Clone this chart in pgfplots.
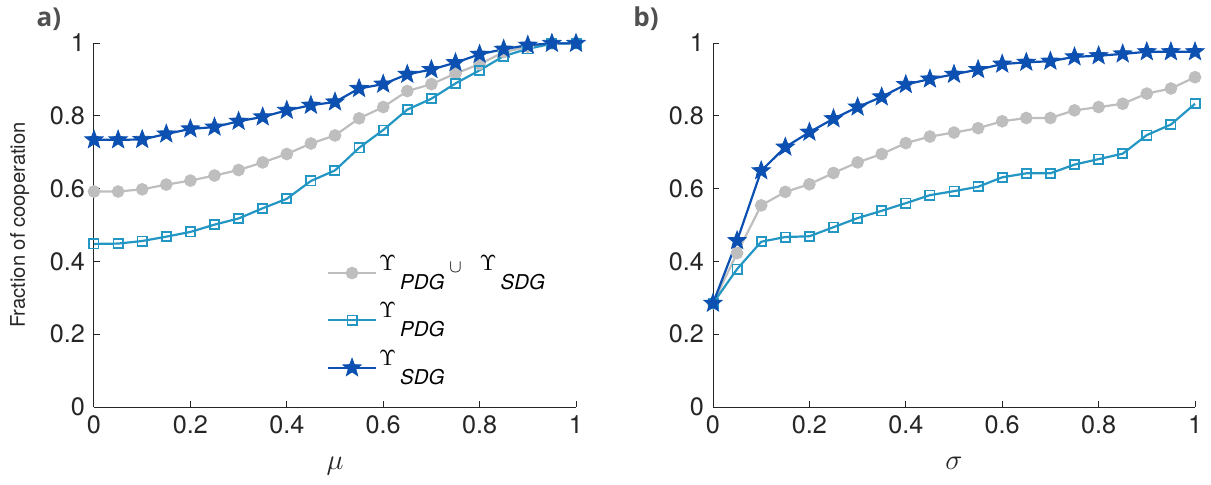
\documentclass[border=0pt]{standalone}
\usepackage{pgfplots}
\pgfplotsset{compat=1.18}
\usepackage{fontspec}
\setmainfont{TeX Gyre Heros}
\newfontfamily\panelfont{Open Sans}
\usetikzlibrary{plotmarks}
\definecolor{cgray}{RGB}{190,190,190}
\definecolor{cteal}{RGB}{35,150,195}
\definecolor{cblue}{RGB}{12,80,178}
\definecolor{axc}{RGB}{38,38,38}

\pgfplotstableread{
x g s t
0.00 0.592 0.448 0.734
0.05 0.592 0.449 0.734
0.10 0.598 0.456 0.735
0.15 0.611 0.468 0.750
0.20 0.622 0.481 0.764
0.25 0.636 0.501 0.769
0.30 0.651 0.518 0.785
0.35 0.672 0.546 0.797
0.40 0.695 0.572 0.815
0.45 0.724 0.621 0.829
0.50 0.746 0.650 0.838
0.55 0.793 0.712 0.875
0.60 0.824 0.761 0.887
0.65 0.868 0.817 0.914
0.70 0.887 0.847 0.927
0.75 0.916 0.889 0.946
0.80 0.942 0.925 0.969
0.85 0.975 0.964 0.983
0.90 0.990 0.984 0.994
0.95 0.999 0.998 0.999
1.00 1.000 0.999 0.999
}\tabmu

\pgfplotstableread{
x g s t
0.00 0.285 0.285 0.285
0.05 0.423 0.379 0.457
0.10 0.554 0.454 0.649
0.15 0.591 0.467 0.714
0.20 0.612 0.469 0.755
0.25 0.643 0.494 0.792
0.30 0.672 0.519 0.824
0.35 0.695 0.539 0.852
0.40 0.725 0.560 0.886
0.45 0.743 0.582 0.901
0.50 0.754 0.593 0.914
0.55 0.766 0.605 0.927
0.60 0.785 0.631 0.942
0.65 0.794 0.642 0.947
0.70 0.794 0.642 0.950
0.75 0.815 0.666 0.962
0.80 0.824 0.681 0.965
0.85 0.833 0.696 0.970
0.90 0.861 0.747 0.976
0.95 0.875 0.776 0.976
1.00 0.906 0.833 0.976
}\tabsig

\pgfplotsset{
  geom/.style={scale only axis, width=241pt, height=182pt,
    xmin=0, xmax=1, ymin=0, ymax=1, anchor=south west},
  myaxis/.style={
    geom,
    axis lines*=left,
    axis line style={axc, line width=0.5pt},
    tick style={axc, line width=0.5pt},
    tick align=inside,
    major tick length=3pt,
    xtick={0,0.2,...,1}, ytick={0,0.2,...,1},
    /pgf/number format/assume math mode=true,
    ticklabel style={font=\fontsize{12.6}{14}\selectfont, text=axc},
    xticklabel style={yshift=-1pt},
    yticklabel style={xshift=-1pt},
    label style={text=axc},
    xlabel style={font=\fontsize{14}{15}\selectfont, yshift=-4.5pt},
    clip=false,
  },
  leg/.style={legend style={at={(0.47,#1)}, anchor=west, draw=none, fill=none,
    font=\fontsize{9.5}{11}\selectfont, nodes={inner sep=1pt}},
    legend cell align=left,
    legend image code/.code={\draw[mark repeat=2, mark phase=2] plot coordinates {(0pt,0pt)(12pt,0pt)(24pt,0pt)};}},
  gline/.style={cgray, line width=1.1pt, mark=*, mark size=2.6pt, mark options={solid, fill=cgray, draw=cgray}},
  sline/.style={cteal, line width=1.1pt, mark=square, mark size=2.3pt, mark options={solid, draw=cteal, line width=0.9pt}},
  tline/.style={cblue, line width=1.1pt, mark=star*, mark size=4.8pt, mark options={solid, fill=cblue, draw=cblue, line width=0.4pt}},
}
\pgfdeclareplotmark{star*}{%
  \pgfpathmoveto{\pgfqpointpolar{90}{\pgfplotmarksize}}%
  \pgfpathlineto{\pgfqpointpolar{126}{0.42\pgfplotmarksize}}%
  \pgfpathlineto{\pgfqpointpolar{162}{\pgfplotmarksize}}%
  \pgfpathlineto{\pgfqpointpolar{198}{0.42\pgfplotmarksize}}%
  \pgfpathlineto{\pgfqpointpolar{234}{\pgfplotmarksize}}%
  \pgfpathlineto{\pgfqpointpolar{270}{0.42\pgfplotmarksize}}%
  \pgfpathlineto{\pgfqpointpolar{306}{\pgfplotmarksize}}%
  \pgfpathlineto{\pgfqpointpolar{342}{0.42\pgfplotmarksize}}%
  \pgfpathlineto{\pgfqpointpolar{18}{\pgfplotmarksize}}%
  \pgfpathlineto{\pgfqpointpolar{54}{0.42\pgfplotmarksize}}%
  \pgfpathclose\pgfusepathqfillstroke}

\newcommand{\Ups}{\raisebox{0.5pt}{\fontsize{10.5}{11}\selectfont$\Upsilon$}}
\newcommand{\U}[1]{\Ups\hspace{2pt}\raisebox{-9pt}{\fontsize{10.2}{11}\selectfont\itshape #1}}
\newcommand{\leg}[1]{\smash{#1}}

\begin{document}
\begin{tikzpicture}
\useasboundingbox (0,0) rectangle (605.5pt,242pt);
\begin{axis}[myaxis, at={(47pt,38.5pt)},
  xlabel={$\mu$}, ylabel={Fraction of cooperation},
  ylabel style={font=\fontsize{10.1}{12}\selectfont, yshift=3.5pt},
  leg=0.368,
]
\addplot[gline] table[x=x, y=g] {\tabmu};
\addlegendentry{\leg{\U{PDG}\hspace{2.5pt}\raisebox{-0.5pt}{\fontsize{9}{10}\selectfont$\cup$}\hspace{9pt}\U{SDG}}}
\addplot[sline] table[x=x, y=s] {\tabmu};
\addplot[tline] table[x=x, y=t] {\tabmu};
\end{axis}
\begin{axis}[geom, at={(47pt,38.5pt)}, hide axis, leg=0.239]
\addlegendimage{sline}
\addlegendentry{\leg{\U{PDG}}}
\end{axis}
\begin{axis}[geom, at={(47pt,38.5pt)}, hide axis, leg=0.110]
\addlegendimage{tline}
\addlegendentry{\leg{\U{SDG}}}
\end{axis}
\begin{axis}[myaxis, at={(356.5pt,38.5pt)},
  xlabel={$\sigma$},
]
\addplot[gline] table[x=x, y=g] {\tabsig};
\addplot[sline] table[x=x, y=s] {\tabsig};
\addplot[tline] table[x=x, y=t] {\tabsig};
\end{axis}
\node[font=\panelfont\bfseries\fontsize{13}{14}\selectfont, text={rgb,255:red,80;green,80;blue,80}] at (24.5pt,232.5pt) {a)};
\node[font=\panelfont\bfseries\fontsize{13}{14}\selectfont, text={rgb,255:red,80;green,80;blue,80}] at (323pt,232.5pt) {b)};
\end{tikzpicture}
\end{document}
